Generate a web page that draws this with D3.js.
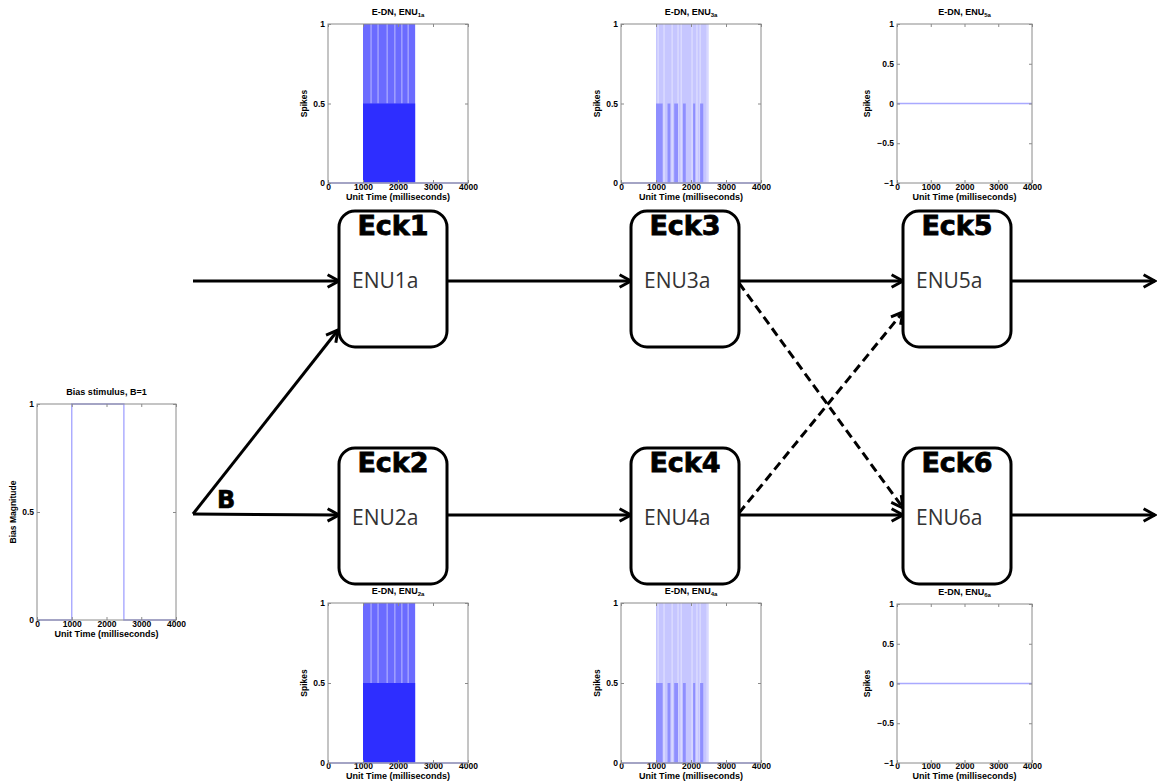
<!DOCTYPE html>
<html>
<head>
<meta charset="utf-8">
<script src="https://cdn.jsdelivr.net/npm/d3@7"></script>
<style>
  body { margin: 0; background: #fff; }
  svg { display: block; }
</style>
</head>
<body>
<div id="chart"></div>
<script>
// ---- data ----
const timeTicks = [0, 1000, 2000, 3000, 4000];
const spikeTicks = [0, 0.5, 1];
const flatTicks = [-1, -0.5, 0, 0.5, 1];

// bias stimulus, B=1 between 1000 and 2500 ms
const biasStep = [[0, 0], [1000, 0], [1000, 1], [2500, 1], [2500, 0], [4000, 0]];

// ENU1a / ENU2a: dense firing during the stimulus
const enu1aFull = [[1000, 2490]];
const enu1aHalf = [[1000, 2490]];
const enu1aGaps = [1230, 1430, 1690, 1910, 2110, 2290];

// ENU3a / ENU4a: sparser firing, half-height bursts
const enu3aFull = [[1000, 2500]];
const enu3aHalf = [[1000, 1190], [1330, 1410], [1520, 1630], [1770, 1850], [2060, 2120], [2260, 2350]];
const enu3aGaps = [1060, 1230, 1460, 1630, 1720, 2030, 2170, 2260, 2460];

// ENU5a / ENU6a: silent
const flatLine = [[0, 0], [4000, 0]];

// network
const nodeNames = ["Eck1", "Eck2", "Eck3", "Eck4", "Eck5", "Eck6"];
const unitNames = ["ENU1a", "ENU2a", "ENU3a", "ENU4a", "ENU5a", "ENU6a"];
const solidLinks = [["Eck1", "Eck3"], ["Eck2", "Eck4"], ["Eck3", "Eck5"], ["Eck4", "Eck6"]];
const dashedLinks = [["Eck3", "Eck6"], ["Eck4", "Eck5"]];

// ---- drawing ----
const W = 1157, H = 782;
const svg = d3.select("#chart").append("svg")
    .attr("width", W)
    .attr("height", H);

const plotFont = "'Liberation Sans', Arial, sans-serif";

function drawPanel(p) {
    const x = d3.scaleLinear().domain([0, 4000]).range([p.x0, p.x1]);
    const y = d3.scaleLinear().domain(p.yDomain).range([p.y1, p.y0]);
    const g = svg.append("g");

    // marks
    (p.full || []).forEach(b => {
        g.append("rect")
            .attr("x", x(b[0])).attr("y", y(1))
            .attr("width", x(b[1]) - x(b[0])).attr("height", y(0) - y(1))
            .attr("fill", p.fullColor);
    });
    (p.gaps || []).forEach(t => {
        g.append("line")
            .attr("x1", x(t)).attr("x2", x(t))
            .attr("y1", y(1)).attr("y2", y(p.gapTo))
            .attr("stroke", "#fff").attr("stroke-opacity", 0.45).attr("stroke-width", 1.2);
    });
    (p.half || []).forEach(b => {
        g.append("rect")
            .attr("x", x(b[0])).attr("y", y(0.5))
            .attr("width", x(b[1]) - x(b[0])).attr("height", y(0) - y(0.5))
            .attr("fill", p.halfColor);
    });
    if (p.line) {
        g.append("path")
            .datum(p.line)
            .attr("d", d3.line().x(d => x(d[0])).y(d => y(d[1])))
            .attr("fill", "none")
            .attr("stroke", "#a9a9ff")
            .attr("stroke-width", 1.4);
    }

    // axes (MATLAB style: inward ticks on all four sides)
    const styleAxis = (sel, showText) => {
        sel.select(".domain").remove();
        sel.selectAll(".tick line").attr("stroke", "#8a8a8a");
        sel.selectAll(".tick text")
            .attr("fill", "#000")
            .style("font-family", plotFont)
            .style("font-size", "8.5px")
            .style("font-weight", "bold")
            .style("display", showText ? null : "none");
    };
    const xPad = p.tickPad === undefined ? 1 : p.tickPad;
    g.append("g").attr("transform", `translate(0,${p.y1})`)
        .call(d3.axisBottom(x).tickValues(timeTicks).tickSizeInner(-3).tickSizeOuter(0).tickPadding(xPad)
            .tickFormat(d3.format("d")))
        .call(s => styleAxis(s, true));
    g.append("g").attr("transform", `translate(0,${p.y0})`)
        .call(d3.axisTop(x).tickValues(timeTicks).tickSizeInner(-3).tickSizeOuter(0))
        .call(s => styleAxis(s, false));
    g.append("g").attr("transform", `translate(${p.x0},0)`)
        .call(d3.axisLeft(y).tickValues(p.yTicks).tickSizeInner(-3).tickSizeOuter(0).tickPadding(3)
            .tickFormat(d3.format("")))
        .call(s => styleAxis(s, true));
    g.append("g").attr("transform", `translate(${p.x1},0)`)
        .call(d3.axisRight(y).tickValues(p.yTicks).tickSizeInner(-3).tickSizeOuter(0))
        .call(s => styleAxis(s, false));

    g.append("rect")
        .attr("x", p.x0).attr("y", p.y0)
        .attr("width", p.x1 - p.x0).attr("height", p.y1 - p.y0)
        .attr("fill", "none").attr("stroke", "#8a8a8a").attr("stroke-width", 1);

    // texts
    const cx = (p.x0 + p.x1) / 2;
    const title = g.append("text")
        .attr("x", cx).attr("y", p.y0 - 9)
        .attr("text-anchor", "middle")
        .style("font-family", plotFont).style("font-size", "9px").style("font-weight", "bold")
        .text(p.title);
    if (p.sub) {
        title.append("tspan").attr("dy", 2).style("font-size", "6px").text(p.sub);
    }
    g.append("text")
        .attr("x", cx).attr("y", Math.min(p.y1 + 17, H - 3))
        .attr("text-anchor", "middle")
        .style("font-family", plotFont).style("font-size", "9px").style("font-weight", "bold")
        .text("Unit Time (milliseconds)");
    g.append("text")
        .attr("transform", `translate(${p.x0 - p.ylabOff},${(p.y0 + p.y1) / 2}) rotate(-90)`)
        .attr("text-anchor", "middle")
        .style("font-family", plotFont).style("font-size", "8.5px").style("font-weight", "bold")
        .text(p.ylab);
}

const denseStyle = {fullColor: "#6b6bff", halfColor: "#2e2eff", gapTo: 0.5};
const sparseStyle = {fullColor: "#c6c6ff", halfColor: "#8f8fff", gapTo: 0};

const panels = [
    Object.assign({x0: 328, x1: 468, y0: 24, y1: 183, title: "E-DN, ENU", sub: "1a",
        full: enu1aFull, half: enu1aHalf, gaps: enu1aGaps, line: flatLine}, denseStyle),
    Object.assign({x0: 621, x1: 761, y0: 24, y1: 183, title: "E-DN, ENU", sub: "3a",
        full: enu3aFull, half: enu3aHalf, gaps: enu3aGaps, line: flatLine}, sparseStyle),
    {x0: 897, x1: 1032, y0: 24, y1: 183, title: "E-DN, ENU", sub: "5a", line: flatLine,
        yDomain: [-1, 1], yTicks: flatTicks, ylabOff: 27},
    Object.assign({x0: 328, x1: 468, y0: 603, y1: 763, tickPad: 0, title: "E-DN, ENU", sub: "2a",
        full: enu1aFull, half: enu1aHalf, gaps: enu1aGaps, line: flatLine}, denseStyle),
    Object.assign({x0: 621, x1: 761, y0: 603, y1: 763, tickPad: 0, title: "E-DN, ENU", sub: "4a",
        full: enu3aFull, half: enu3aHalf, gaps: enu3aGaps, line: flatLine}, sparseStyle),
    {x0: 897, x1: 1032, y0: 604, y1: 763, tickPad: 0, title: "E-DN, ENU", sub: "6a", line: flatLine,
        yDomain: [-1, 1], yTicks: flatTicks, ylabOff: 27},
    {x0: 37, x1: 176, y0: 404, y1: 620, title: "Bias stimulus, B=1", line: biasStep,
        yDomain: [0, 1], yTicks: spikeTicks, ylab: "Bias Magnitude", ylabOff: 21}
];
panels.forEach(p => {
    if (!p.yDomain) { p.yDomain = [0, 1]; p.yTicks = spikeTicks; p.ylabOff = 21; }
    if (!p.ylab) p.ylab = "Spikes";
    drawPanel(p);
});

// ---- network diagram ----
const colX = [339, 631, 903], rowY = [211, 448], lineY = [281, 515];
const nodeW = 108, nodeH = 136;
const nodes = nodeNames.map((name, i) => ({
    name, unit: unitNames[i], col: Math.floor(i / 2), row: i % 2,
    x: colX[Math.floor(i / 2)], y: rowY[i % 2]
}));
const byName = Object.fromEntries(nodes.map(n => [n.name, n]));

function arrow(x1, y1, x2, y2, dashed) {
    const g = svg.append("g").attr("stroke", "#000").attr("stroke-width", 3).attr("fill", "none");
    g.append("line").attr("x1", x1).attr("y1", y1).attr("x2", x2).attr("y2", y2)
        .attr("stroke-dasharray", dashed ? "9,5" : null);
    const a = Math.atan2(y2 - y1, x2 - x1), L = 13, s = 0.5;
    g.append("path")
        .attr("stroke-linejoin", "miter")
        .attr("d", `M${x2 - L * Math.cos(a - s)},${y2 - L * Math.sin(a - s)}L${x2},${y2}L${x2 - L * Math.cos(a + s)},${y2 - L * Math.sin(a + s)}`);
}

// inputs
arrow(193, lineY[0], colX[0], lineY[0]);
arrow(193, 514, colX[0], lineY[1]);
arrow(193, 514, colX[0] - 1, rowY[0] + 119);
svg.append("text").attr("x", 217).attr("y", 508)
    .style("font-family", "'DejaVu Sans', sans-serif").style("font-size", "24px").style("font-weight", "bold")
    .attr("stroke", "#000").attr("stroke-width", 0.6)
    .text("B");

// links
solidLinks.forEach(([a, b]) => {
    const s = byName[a], t = byName[b];
    arrow(s.x + nodeW, lineY[s.row], t.x, lineY[t.row]);
});
dashedLinks.forEach(([a, b]) => {
    const s = byName[a], t = byName[b];
    arrow(s.x + nodeW, lineY[s.row] + (s.row ? -2 : 2), t.x, t.y + (t.row ? 60 : 101), true);
});
// outputs
nodes.filter(n => n.col === 2).forEach(n => arrow(n.x + nodeW, lineY[n.row], 1155, lineY[n.row]));

// boxes
const ng = svg.selectAll(".node").data(nodes).enter().append("g").attr("class", "node");
ng.append("rect")
    .attr("x", d => d.x).attr("y", d => d.y)
    .attr("width", nodeW).attr("height", nodeH)
    .attr("rx", 16).attr("ry", 16)
    .attr("fill", "#fff").attr("stroke", "#000").attr("stroke-width", 3);
ng.append("text")
    .attr("x", d => d.x + nodeW / 2).attr("y", d => d.y + 24)
    .attr("text-anchor", "middle")
    .style("font-family", "'DejaVu Sans', sans-serif").style("font-size", "27px").style("font-weight", "bold")
    .attr("stroke", "#000").attr("stroke-width", 0.8)
    .text(d => d.name);
ng.append("text")
    .attr("x", d => d.x + 13).attr("y", d => d.y + 77)
    .style("font-family", "'Open Sans', sans-serif").style("font-size", "21px")
    .attr("fill", "#333")
    .text(d => d.unit);
</script>
</body>
</html>
